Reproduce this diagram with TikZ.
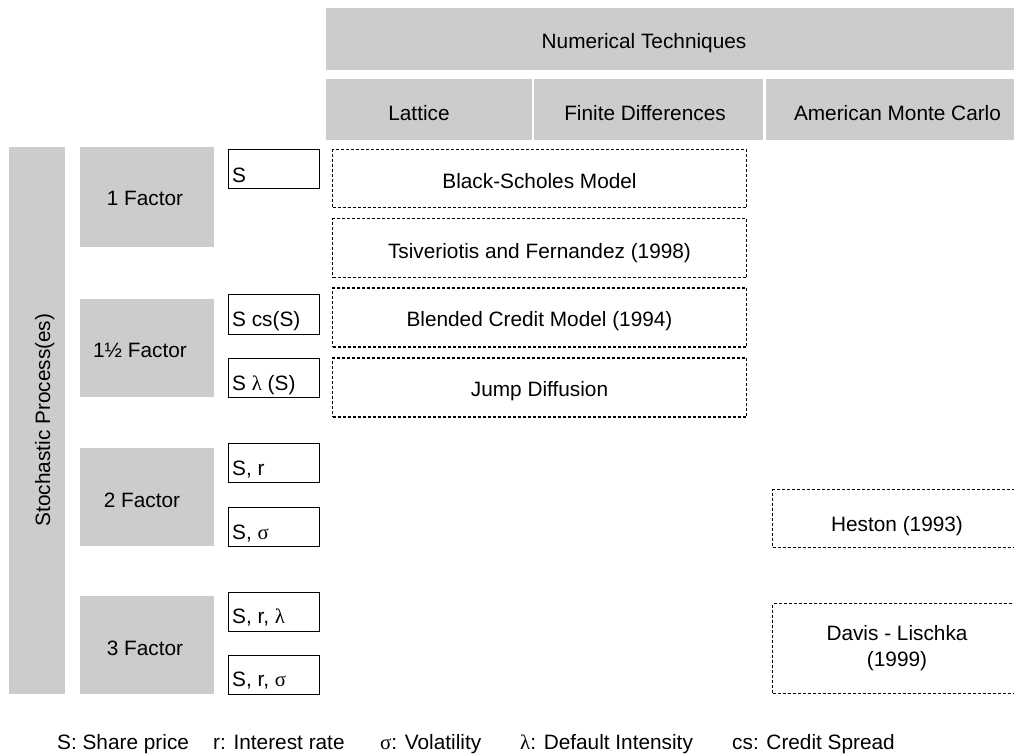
\documentclass[tikz,border=0pt]{standalone}
\usepackage{fontspec}
\setmainfont{Liberation Sans}
\newfontfamily\symfont{Liberation Serif}
\newcommand{\gsig}{{\symfont σ}}
\newcommand{\glam}{{\symfont λ}}
\definecolor{panelgray}{HTML}{CCCCCC}
\begin{document}
\begin{tikzpicture}[x=1pt,y=-1pt,
  txt/.style={inner sep=0pt, font=\fontsize{20.8}{27}\selectfont, text=black, align=center},
  graybox/.style={fill=panelgray, draw=none, inner sep=0pt},
  varbox/.style={draw=black, line width=1.2pt, fill=white, inner sep=0pt,
                 minimum width=91pt, minimum height=39pt},
  modelbox/.style={draw=black, line width=1.1pt, dash pattern=on 3pt off 2pt,
                   inner sep=0pt, minimum height=58pt},
]
\clip (0,0) rectangle (1014,755);

% column headers
\node[graybox, minimum width=694pt, minimum height=62pt] (nt) at (673,39) {};
\node[txt, anchor=base] (ntlab) at (644,48) {Numerical Techniques};
\node[graybox, minimum width=206pt, minimum height=61pt] (lat) at (429,109.5) {};
\node[graybox, minimum width=229pt, minimum height=61pt] (fd) at (648.5,109.5) {};
\node[graybox, minimum width=254pt, minimum height=61pt] (amc) at (893,109.5) {};
\node[txt, anchor=base] (latlab) at (419,120) {Lattice};
\node[txt, anchor=base] (fdlab) at (645,120) {Finite Differences};
\node[txt, anchor=base] (amclab) at (897.5,120) {American Monte Carlo};

% row headers
\node[graybox, minimum width=56pt, minimum height=547pt] (sp) at (37,420.5) {};
\node[txt, rotate=90, anchor=base] (splab) at (50,420) {Stochastic Process(es)};

\node[graybox, minimum width=134pt, minimum height=100pt] (f1) at (147,197) {};
\node[graybox, minimum width=134pt, minimum height=98pt] (f15) at (147,348) {};
\node[graybox, minimum width=134pt, minimum height=98pt] (f2) at (147,497) {};
\node[graybox, minimum width=134pt, minimum height=98pt] (f3) at (147,645) {};
\node[txt, anchor=base] (f1lab) at (145,205) {1 Factor};
\node[txt, anchor=base] (f15lab) at (140,357) {1½ Factor};
\node[txt, anchor=base] (f2lab) at (142,507) {2 Factor};
\node[txt, anchor=base] (f3lab) at (145,655) {3 Factor};

% state variables
\node[varbox] (vs) at (274,169) {};
\node[varbox, minimum height=40pt] (vscs) at (274,314.5) {};
\node[varbox] (vslam) at (274,378) {};
\node[varbox] (vsr) at (274,463) {};
\node[varbox] (vssig) at (274,527) {};
\node[varbox] (vsrlam) at (274,612) {};
\node[varbox] (vsrsig) at (274,675) {};
\node[txt, anchor=base west] (vslab) at (232,182) {S};
\node[txt, anchor=base west] (vscslab) at (232,326) {S cs(S)};
\node[txt, anchor=base west] (vslamlab) at (232,390) {S \glam{} (S)};
\node[txt, anchor=base west] (vsrlab) at (232,475) {S, r};
\node[txt, anchor=base west] (vssiglab) at (232,539) {S, \gsig};
\node[txt, anchor=base west] (vsrlamlab) at (232,623) {S, r, \glam};
\node[txt, anchor=base west] (vsrsiglab) at (232,686) {S, r, \gsig};

% models
\node[modelbox, minimum width=414pt] (bs) at (539.5,178.5) {};
\node[modelbox, minimum width=414pt, minimum height=59pt] (tf) at (539.5,248) {};
\node[modelbox, minimum width=414pt, minimum height=59pt] (bc) at (539.5,317.5) {};
\node[modelbox, minimum width=414pt, minimum height=59pt] (jd) at (539.5,387.5) {};
\node[modelbox, minimum width=252pt] (hes) at (898.5,518.5) {};
\node[modelbox, minimum width=252pt, minimum height=90pt] (dl) at (898.5,648.5) {};
\node[txt, anchor=base] (bslab) at (539.5,188) {Black-Scholes Model};
\node[txt, anchor=base] (tflab) at (539.5,258) {Tsiveriotis and Fernandez (1998)};
\node[txt, anchor=base] (bclab) at (539.5,326) {Blended Credit Model (1994)};
\node[txt, anchor=base] (jdlab) at (539.5,396) {Jump Diffusion};
\node[txt, anchor=base] (heslab) at (897,531) {Heston (1993)};
\node[txt, anchor=base] (dllab1) at (897,640) {Davis - Lischka};
\node[txt, anchor=base] (dllab2) at (897,666) {(1999)};

% legend
\node[txt, anchor=base west] (lg1) at (57,749) {S: Share price};
\node[txt, anchor=base west] (lg2) at (213,749) {r: Interest rate};
\node[txt, anchor=base west] (lg3) at (380,749) {\gsig: Volatility};
\node[txt, anchor=base west] (lg4) at (520,749) {\glam: Default Intensity};
\node[txt, anchor=base west] (lg5) at (732,749) {cs: Credit Spread};
\end{tikzpicture}
\end{document}
